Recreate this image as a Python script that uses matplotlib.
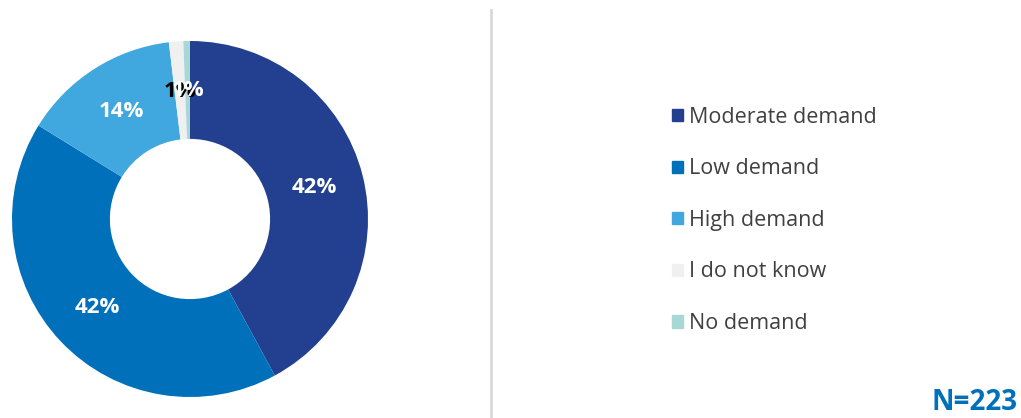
import matplotlib.pyplot as plt
from matplotlib.lines import Line2D

# survey answers (share of respondents, %)
categories = ["Moderate demand", "Low demand", "High demand", "I do not know", "No demand"]
shares = [42.1, 41.7, 14.3, 1.3, 0.6]
colors = ["#22408F", "#0070BA", "#41A8DF", "#F0F0F0", "#A8D8D5"]
label_colors = ["white", "white", "white", "black", "white"]
n_total = 223

plt.rcParams["font.family"] = ["Open Sans", "DejaVu Sans"]

fig = plt.figure(figsize=(10.21, 4.18), dpi=100)
W, H = 1021, 418

# donut
ax = fig.add_axes([12 / W, (H - 397) / H, 356 / W, 356 / H])
wedges, texts, autotexts = ax.pie(
    shares,
    colors=colors,
    startangle=90,
    counterclock=False,
    radius=1.0,
    wedgeprops=dict(width=0.55, edgecolor="none"),
    autopct=lambda p: f"{p:.0f}%",
    pctdistance=0.72,
    textprops=dict(fontsize=16, fontweight="bold"),
)
for t, c in zip(autotexts, label_colors):
    t.set_color(c)
ax.set_xlim(-1, 1)
ax.set_ylim(-1, 1)
ax.set_aspect("equal")
ax.axis("off")

# separator
fig.add_artist(Line2D([491 / W, 491 / W], [0, (H - 10) / H],
                      color="#D9D9D9", linewidth=2))

# legend
handles = [plt.Rectangle((0, 0), 1, 1, color=c) for c in colors]
fig.legend(handles, categories,
           loc="upper left", bbox_to_anchor=(661 / W, (H - 96) / H),
           frameon=False, fontsize=15.5, labelcolor="#404040",
           handlelength=0.5, handleheight=0.5, handletextpad=0.3,
           labelspacing=1.42, borderpad=0)

fig.text(1018 / W, (H - 402) / H, f"N={n_total}", ha="right", va="center",
         fontsize=20, fontweight="bold", color="#0070BA")

fig.savefig("out.png", dpi=100)
